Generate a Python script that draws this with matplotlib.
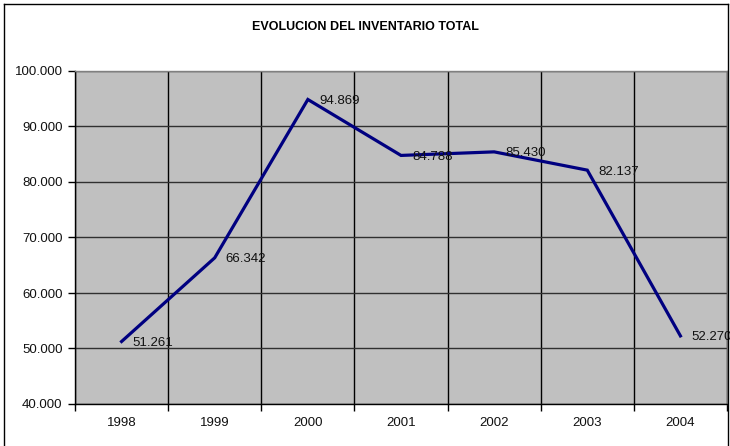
import matplotlib
matplotlib.use('Agg')
import matplotlib.pyplot as plt
from matplotlib.lines import Line2D

plt.rcParams['font.family'] = ['Liberation Sans', 'DejaVu Sans']

years = ['1998', '1999', '2000', '2001', '2002', '2003', '2004']
inventario = [51261, 66342, 94869, 84788, 85430, 82137, 52270]
y_ticks = [40000, 50000, 60000, 70000, 80000, 90000, 100000]


def fmt_miles(v):
    # formato con punto como separador de miles
    return f'{v:,.0f}'.replace(',', '.')


fig = plt.figure(figsize=(7.30, 4.46), dpi=100)
ax = fig.add_axes([75/730, 1 - 404/446, 652/730, 333/446])
ax.set_facecolor('#C0C0C0')

x = list(range(len(years)))
ax.plot(x, inventario, color='#000080', linewidth=2.3, solid_joinstyle='miter', zorder=3)
for xi, v in zip(x, inventario):
    ax.annotate(fmt_miles(v), (xi, v), xytext=(8, -1), textcoords='offset points',
                va='center', ha='left', fontsize=9.5, color='#111111', zorder=4)

ax.set_xlim(-0.5, len(years) - 0.5)
ax.set_ylim(40000, 100000)

# gridlines horizontales
ax.set_yticks(y_ticks)
ax.set_yticklabels([fmt_miles(v) for v in y_ticks], fontsize=9.5, color='#111111')
ax.yaxis.grid(True, color='#303030', linewidth=1)

# categorias: ticks en los limites, etiquetas centradas
ax.set_xticks([i - 0.5 for i in range(len(years) + 1)])
ax.set_xticklabels([''] * (len(years) + 1))
ax.set_xticks(x, minor=True)
ax.set_xticklabels(years, minor=True, fontsize=9.5, color='#111111')
ax.xaxis.grid(True, which='major', color='black', linewidth=1)
ax.tick_params(axis='x', which='minor', length=0, pad=9)
ax.tick_params(axis='x', which='major', length=5, direction='out', width=1)
ax.tick_params(axis='y', length=5, direction='out', width=1, pad=4)
ax.set_axisbelow(True)

ax.spines['top'].set_color('#808080')
ax.spines['right'].set_color('#808080')
ax.spines['left'].set_color('black')
ax.spines['bottom'].set_color('black')
for s in ax.spines.values():
    s.set_linewidth(1)

fig.text(0.5, 1 - 27/446, 'EVOLUCION DEL INVENTARIO TOTAL', ha='center', va='center',
         fontsize=9, fontweight='bold')

# borde exterior del grafico
border = dict(color='black', linewidth=1, transform=fig.transFigure)
fig.add_artist(Line2D([4/730, 4/730], [0, 1 - 4/446], **border))
fig.add_artist(Line2D([4/730, 728/730], [1 - 4/446, 1 - 4/446], **border))
fig.add_artist(Line2D([728/730, 728/730], [0, 1 - 4/446], **border))

fig.savefig('out.png', dpi=100, facecolor='white')
